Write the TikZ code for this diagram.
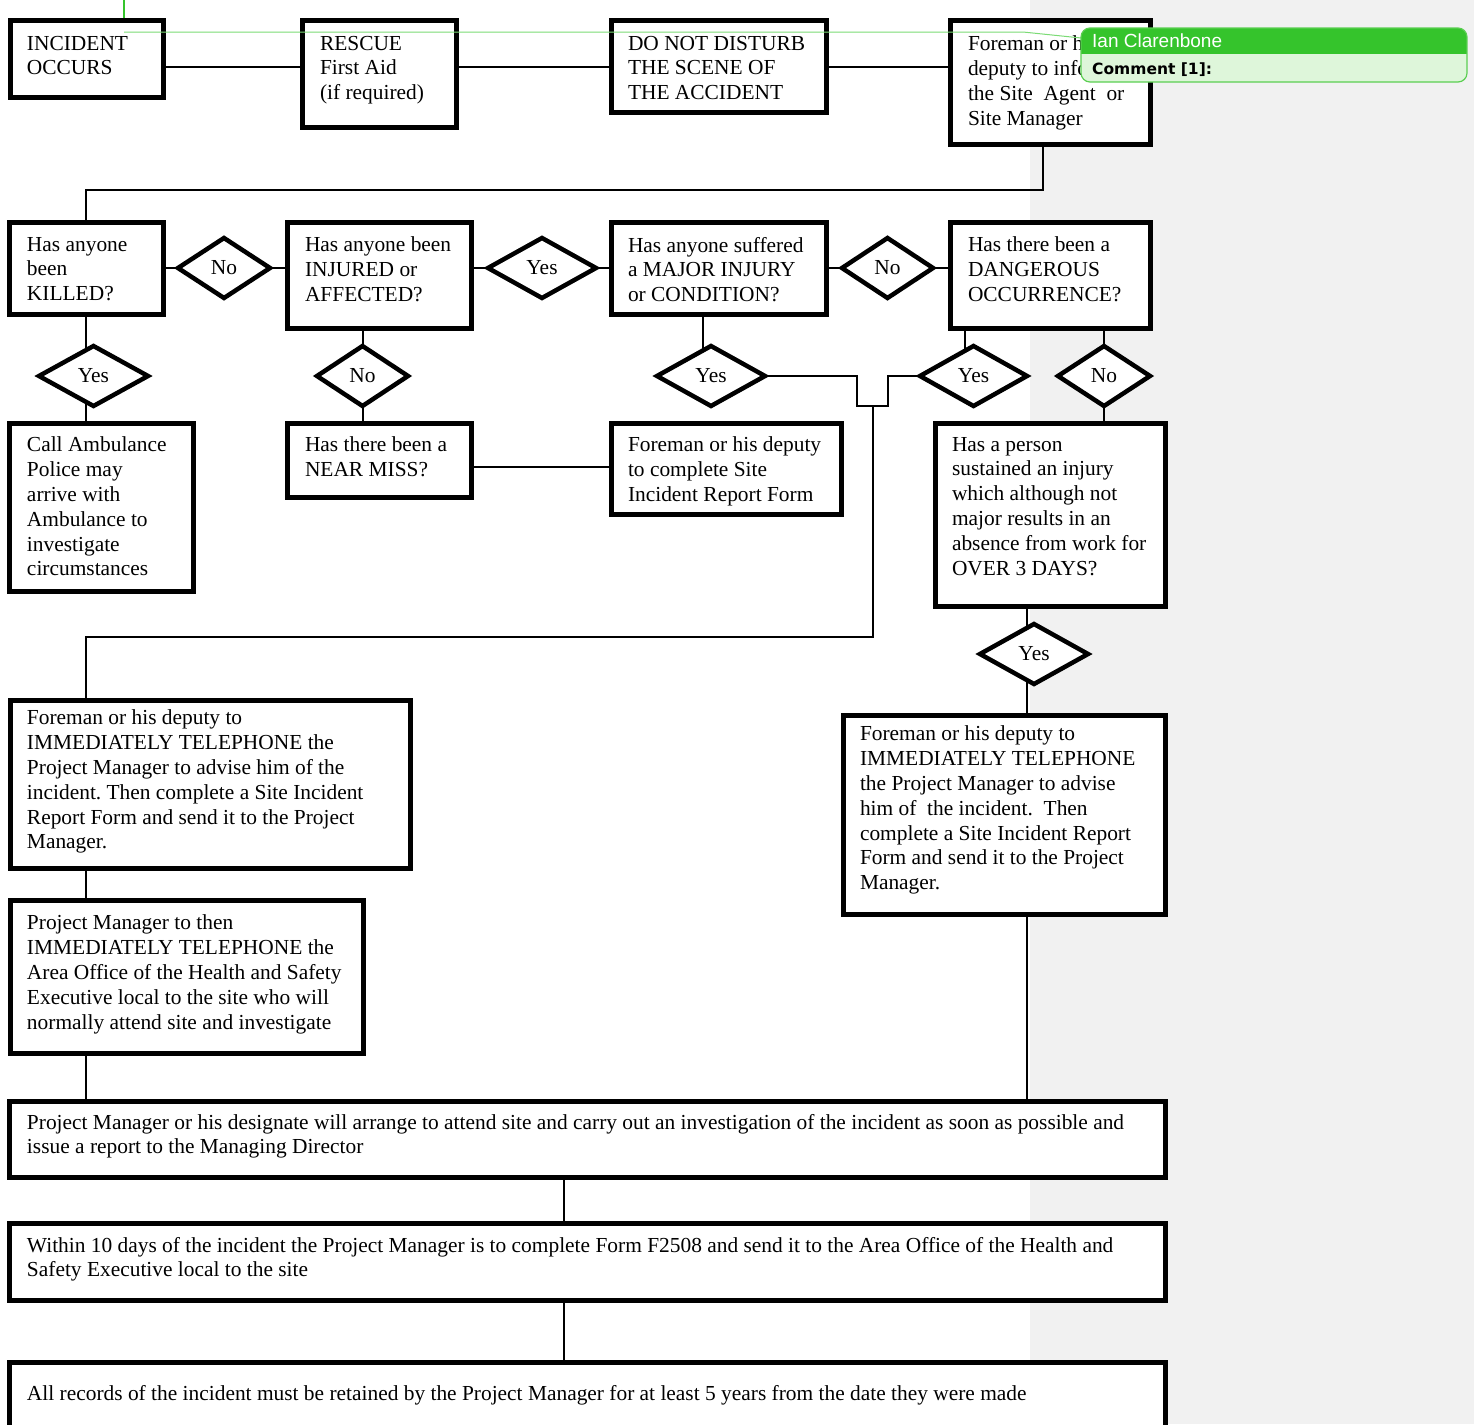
\documentclass[tikz,border=0pt]{standalone}
\usepackage{fontspec}
\setmainfont{Liberation Serif}
\newfontfamily\cmtsans{Liberation Sans}
\newfontfamily\cmtdejavu{DejaVu Sans}
\usetikzlibrary{shapes.geometric}
\pgfdeclarelayer{back}
\pgfdeclarelayer{wires}
\pgfsetlayers{back,wires,main}
\definecolor{bggray}{HTML}{F1F1F1}
\definecolor{hdrgreen}{HTML}{35C42C}
\definecolor{lightgreen}{HTML}{DEF6DA}
\definecolor{bordergreen}{HTML}{5BCF52}
\definecolor{linegreen}{HTML}{7BDB75}
\frenchspacing
\tikzset{
  box/.style={draw=black, line width=4.5pt, fill=white, rectangle, inner sep=0pt, outer sep=0pt, anchor=north west},
  dia/.style={draw=black, line width=4.5pt, fill=white, diamond, inner sep=0pt, outer sep=0pt, minimum height=60pt, font=\fontsize{21.4}{25}\selectfont},
  txt/.style={anchor=north west, inner sep=0pt, outer sep=0pt, align=left, font=\fontsize{21.4}{24.8}\selectfont\frenchspacing, execute at begin node={\rule{0pt}{18pt}}},
  conn/.style={draw=black, line width=1.6pt},
}
\begin{document}
\begin{tikzpicture}[x=1pt,y=-1pt]
\useasboundingbox (0,0) rectangle (1474,1424);
\clip (0,0) rectangle (1474,1424);
\begin{pgfonlayer}{back}
\fill[bggray] (1030,0) rectangle (1474,1424);
\end{pgfonlayer}

% ---------- box frames ----------
\path
 node[box, minimum width=153pt, minimum height=77pt]  (inc) at (10.25,20.25) {}
 node[box, minimum width=154pt, minimum height=107pt] (res) at (302.25,20.25) {}
 node[box, minimum width=215pt, minimum height=92pt]  (dnd) at (611.25,20.25) {}
 node[box, minimum width=200pt, minimum height=124pt] (frm) at (950.25,20.25) {}
 node[box, minimum width=154pt, minimum height=92pt]  (kil) at (9.25,222.25) {}
 node[box, minimum width=184pt, minimum height=106pt] (inj) at (287.25,222.25) {}
 node[box, minimum width=215pt, minimum height=92pt]  (maj) at (611.25,222.25) {}
 node[box, minimum width=200pt, minimum height=106pt] (dng) at (950.25,222.25) {}
 node[box, minimum width=184pt, minimum height=168pt] (amb) at (9.25,423.25) {}
 node[box, minimum width=184pt, minimum height=74pt]  (nm)  at (287.25,423.25) {}
 node[box, minimum width=230pt, minimum height=91pt]  (sif) at (611.25,423.25) {}
 node[box, minimum width=230pt, minimum height=183pt] (hp)  at (935.25,423.25) {}
 node[box, minimum width=400pt, minimum height=168pt] (fl)  at (10.25,700.25) {}
 node[box, minimum width=353pt, minimum height=153pt] (pm)  at (10.25,900.25) {}
 node[box, minimum width=322pt, minimum height=199pt] (fr)  at (843.25,715.25) {}
 node[box, minimum width=1156pt, minimum height=76pt] (bA)  at (9.25,1101.25) {}
 node[box, minimum width=1156pt, minimum height=77pt] (bB)  at (9.25,1223.25) {}
 node[box, minimum width=1156pt, minimum height=76pt] (bC)  at (9.25,1362.25) {};

% ---------- diamonds ----------
\node[dia, minimum width=92pt]  (noA)  at (224,268) {No};
\node[dia, minimum width=108pt] (yesA) at (542,268) {Yes};
\node[dia, minimum width=91pt]  (noB)  at (887.5,268) {No};
\node[dia, minimum width=109pt] (yesK) at (93.5,376) {Yes};
\node[dia, minimum width=91pt]  (noI)  at (362.5,376) {No};
\node[dia, minimum width=108pt] (yesM) at (711,376) {Yes};
\node[dia, minimum width=107pt] (yesD) at (973.5,376) {Yes};
\node[dia, minimum width=92pt]  (noD)  at (1104,376) {No};
\node[dia, minimum width=108pt] (yesH) at (1034,654) {Yes};

% ---------- texts ----------
\node[txt] (incT) at (27,36)  {INCIDENT\\OCCURS};
\node[txt] (resT) at (320,36) {RESCUE\\First Aid\\(if required)};
\node[txt] (dndT) at (628,36) {DO NOT DISTURB\\THE SCENE OF\\THE ACCIDENT};
\node[txt] (frmT) at (968,36) {Foreman or his\\deputy to inform\\the Site\ \ Agent\ \ or\\Site Manager};
\node[txt] (kilT) at (27,237)  {Has anyone\\been\\KILLED?};
\node[txt] (injT) at (305,237) {Has anyone been\\INJURED or\\AFFECTED?};
\node[txt] (majT) at (628,237) {Has anyone suffered\\a MAJOR INJURY\\or CONDITION?};
\node[txt] (dngT) at (968,237) {Has there been a\\DANGEROUS\\OCCURRENCE?};
\node[txt] (ambT) at (27,437)  {Call Ambulance\\Police may\\arrive with\\Ambulance to\\investigate\\circumstances};
\node[txt] (nmT)  at (305,437) {Has there been a\\NEAR MISS?};
\node[txt] (sifT) at (628,437) {Foreman or his deputy\\to complete Site\\Incident Report Form};
\node[txt] (hpT)  at (952,437) {Has a person\\sustained an injury\\which although not\\major results in an\\absence from work for\\OVER 3 DAYS?};
\node[txt] (flT)  at (27,710)  {Foreman or his deputy to\\IMMEDIATELY TELEPHONE the\\Project Manager to advise him of the\\incident. Then complete a Site Incident\\Report Form and send it to the Project\\Manager.};
\node[txt] (pmT)  at (27,915)  {Project Manager to then\\IMMEDIATELY TELEPHONE the\\Area Office of the Health and Safety\\Executive local to the site who will\\normally attend site and investigate};
\node[txt] (frT)  at (860,726) {Foreman or his deputy to\\IMMEDIATELY TELEPHONE\\the Project Manager to advise\\him of\ \ the incident.\ \ Then\\complete a Site Incident Report\\Form and send it to the Project\\Manager.};
\node[txt] (bAT)  at (27,1114) {Project Manager or his designate will arrange to attend site and carry out an investigation of the incident as soon as possible and\\issue a report to the Managing Director};
\node[txt] (bBT)  at (27,1237) {Within 10 days of the incident the Project Manager is to complete Form F2508 and send it to the Area Office of the Health and\\Safety Executive local to the site};
\node[txt] (bCT)  at (27,1382) {All records of the incident must be retained by the Project Manager for at least 5 years from the date they were made};

% ---------- connectors ----------
\coordinate (flIn) at (fl.north -| 86,0);
\coordinate (uJoin) at (873,406);
\begin{pgfonlayer}{wires}
\draw[conn] (inc.east |- 0,67) -- (res.west |- 0,67);
\draw[conn] (res.east |- 0,67) -- (dnd.west |- 0,67);
\draw[conn] (dnd.east |- 0,67) -- (frm.west |- 0,67);
\draw[conn] (frm.south -| 1043,0) |- (kil.north |- 0,190) -- (kil.north);
\draw[conn] (kil.east |- noA.west) -- (noA.west);
\draw[conn] (noA.east) -- (inj.west |- noA.east);
\draw[conn] (inj.east |- yesA.west) -- (yesA.west);
\draw[conn] (yesA.east) -- (maj.west |- yesA.east);
\draw[conn] (maj.east |- noB.west) -- (noB.west);
\draw[conn] (noB.east) -- (dng.west |- noB.east);
\draw[conn] (kil.south -| 86,0) -- (amb.north -| 86,0);
\draw[conn] (inj.south -| 363,0) -- (nm.north -| 363,0);
\draw[conn] (nm.east |- 0,467) -- (sif.west |- 0,467);
\draw[conn] (maj.south -| 703,0) -- (yesM.center -| 703,0);
\draw[conn] (yesM.east) -- (857,376) -- (857,406) -- (888,406) -- (888,376) -- (yesD.west);
\draw[conn] (uJoin) -- (873,637) -| (flIn);
\draw[conn] (dng.south -| 965,0) -- (yesD.center -| 965,0);
\draw[conn] (dng.south -| 1104,0) -- (hp.north -| 1104,0);
\draw[conn] (hp.south -| 1027,0) -- (fr.north -| 1027,0);
\draw[conn] (fr.south -| 1027,0) -- (bA.north -| 1027,0);
\draw[conn] (fl.south -| 86,0) -- (pm.north -| 86,0);
\draw[conn] (pm.south -| 86,0) -- (bA.north -| 86,0);
\draw[conn] (bA.south -| 564,0) -- (bB.north -| 564,0);
\draw[conn] (bB.south -| 564,0) -- (bC.north -| 564,0);
\end{pgfonlayer}

% ---------- comment marker ----------
\draw[hdrgreen, line width=1.2pt] (124,0) -- (124,18);
\coordinate (cmtAnchor) at (124,32);
\draw[linegreen, line width=1pt] (cmtAnchor) -- (1023,32) -- (1081,38);
\fill[lightgreen, rounded corners=9pt] (1081,28) rectangle (1467,82);
\begin{scope}
\clip[rounded corners=9pt] (1081,28) rectangle (1467,82);
\fill[hdrgreen] (1081,28) rectangle (1467,53.5);
\end{scope}
\draw[bordergreen, line width=1.2pt, rounded corners=9pt] (1081,28) rectangle (1467,82);
\node[anchor=base west, inner sep=0pt, text=white, font=\cmtsans\fontsize{19}{21}\selectfont] (cmtH) at (1092,47) {Ian Clarenbone};
\node[anchor=base west, inner sep=0pt, text=black, font=\cmtdejavu\bfseries\fontsize{15.5}{18}\selectfont] (cmtB) at (1092,74) {Comment [1]:};
\end{tikzpicture}
\end{document}
